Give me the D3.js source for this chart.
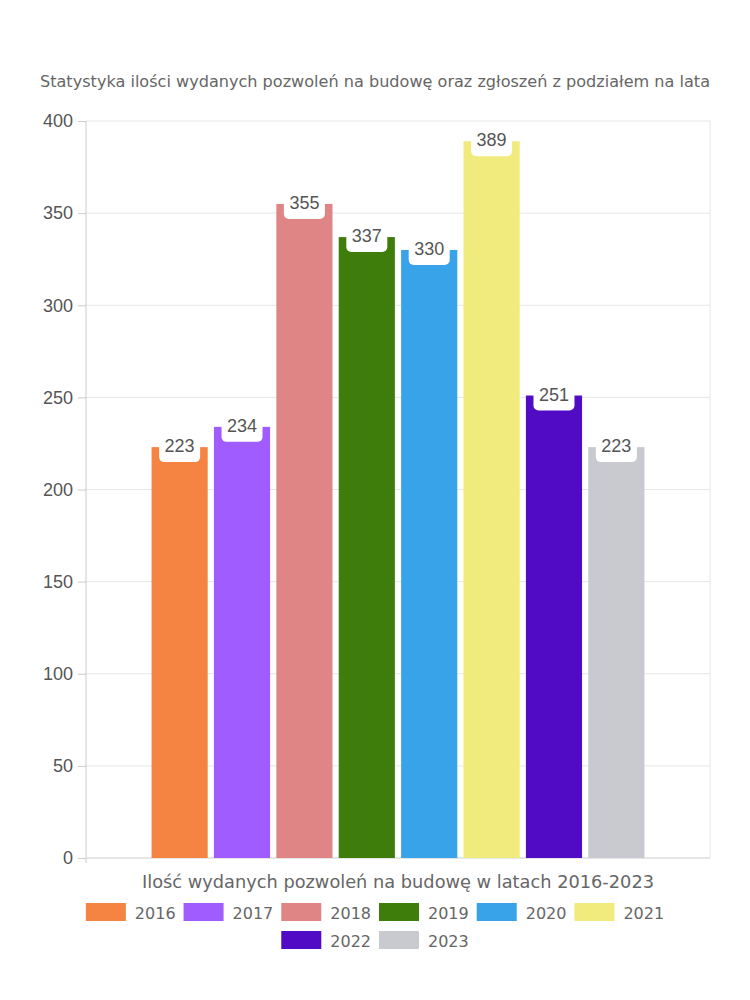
<!DOCTYPE html>
<html><head><meta charset="utf-8">
<script src="https://cdn.jsdelivr.net/npm/d3@7"></script>
<style>body{margin:0;background:#fff}</style>
</head><body>
<svg id="c" width="750" height="1000"></svg>
<script>
const years = ["2016","2017","2018","2019","2020","2021","2022","2023"];
const values = [223,234,355,337,330,389,251,223];
const colors = ["#f58442","#a05cff","#e08585","#3e7d0c","#38a3e8","#f0eb7c","#520bc4","#c9cacf"];
const yTicks = [0,50,100,150,200,250,300,350,400];
const category = ["Ilość wydanych pozwoleń na budowę w latach 2016-2023"];
const title = "Statystyka ilości wydanych pozwoleń na budowę oraz zgłoszeń z podziałem na lata";

(function(){
const svg = d3.select("#c");
const pL=86, pR=710, pT=121, pB=858;
const y = d3.scaleLinear().domain([0,400]).range([pB,pT]);
const x0 = d3.scaleBand().domain(category).range([pL,pR]).paddingInner(0).paddingOuter(0.133);
const x1 = d3.scaleBand().domain(years).range([0,x0.bandwidth()]).paddingInner(0.1).paddingOuter(0);

const titleFont = "'DejaVu Sans', Verdana, sans-serif";
const numFont = "'Liberation Sans', Arial, sans-serif";
const txtCol = "#666";
svg.append("text").attr("x",375).attr("y",87).attr("text-anchor","middle")
  .attr("font-family",titleFont).attr("font-size",16.5).attr("fill",txtCol)
  .attr("textLength",670).attr("lengthAdjust","spacingAndGlyphs").text(title);

// grid
svg.append("g").selectAll("line").data(yTicks.filter(d=>d>0)).join("line")
  .attr("x1",pL).attr("x2",pR).attr("y1",d=>y(d)).attr("y2",d=>y(d))
  .attr("stroke","#e6e6e6");
svg.append("line").attr("x1",pR).attr("x2",pR).attr("y1",pT).attr("y2",pB).attr("stroke","#e6e6e6");

// y axis
const ya = svg.append("g").attr("transform",`translate(${pL},0)`).call(d3.axisLeft(y).tickValues(yTicks).tickSize(8).tickPadding(5));
ya.select(".domain").remove();
ya.append("line").attr("x1",0).attr("x2",0).attr("y1",pT).attr("y2",pB+5).attr("stroke","#ccc");
ya.selectAll(".tick line").attr("stroke","#ccc");
ya.selectAll(".tick text").attr("font-family",numFont).attr("font-size",18).attr("fill","#555");

// x baseline
svg.append("line").attr("x1",pL).attr("x2",pR).attr("y1",pB).attr("y2",pB).attr("stroke","#ccc");
svg.append("text").attr("x",x0(category[0])+x0.bandwidth()/2).attr("y",888).attr("text-anchor","middle")
  .attr("font-family",titleFont).attr("font-size",17).attr("fill",txtCol)
  .attr("textLength",512).attr("lengthAdjust","spacingAndGlyphs").text(category[0]);

// bars
const data = years.map((yr,i)=>({yr,v:values[i],c:colors[i]}));
const g = svg.append("g").attr("transform",`translate(${x0(category[0])},0)`);
g.selectAll("rect.bar").data(data).join("rect").attr("class","bar")
  .attr("x",d=>x1(d.yr)).attr("width",x1.bandwidth())
  .attr("y",d=>y(d.v)).attr("height",d=>y(0)-y(d.v)).attr("fill",d=>d.c);
// labels
const lw=41, lh=34;
g.selectAll("rect.lab").data(data).join("rect").attr("class","lab")
  .attr("x",d=>x1(d.yr)+x1.bandwidth()/2-lw/2).attr("y",d=>y(d.v)+15-lh)
  .attr("width",lw).attr("height",lh).attr("rx",5).attr("fill","#fff");
g.selectAll("text.lab").data(data).join("text").attr("class","lab")
  .attr("x",d=>x1(d.yr)+x1.bandwidth()/2).attr("y",d=>y(d.v)+5)
  .attr("text-anchor","middle").attr("font-family",numFont)
  .attr("font-size",18).attr("fill","#555").text(d=>d.v);

// legend (flow layout, centered rows)
const rows=[data.slice(0,6),data.slice(6)];
const sw=40, gapT=9, gapI=8;
rows.forEach((row,ri)=>{
  const yy= ri===0 ? 903 : 931;
  const lg=svg.append("g");
  const it=lg.selectAll("g").data(row).join("g");
  it.append("rect").attr("width",sw).attr("height",18).attr("fill",d=>d.c);
  const tx=it.append("text").attr("x",sw+gapT).attr("y",16).attr("font-family",titleFont)
    .attr("font-size",16).attr("fill",txtCol).text(d=>d.yr);
  let cx=0; const pos=[];
  tx.each(function(){ pos.push(cx); cx += sw+gapT+this.getComputedTextLength()+gapI; });
  const total=cx-gapI;
  const sx=375-total/2;
  it.attr("transform",(d,i)=>`translate(${sx+pos[i]},${yy})`);
});
})();
</script>
</body></html>
